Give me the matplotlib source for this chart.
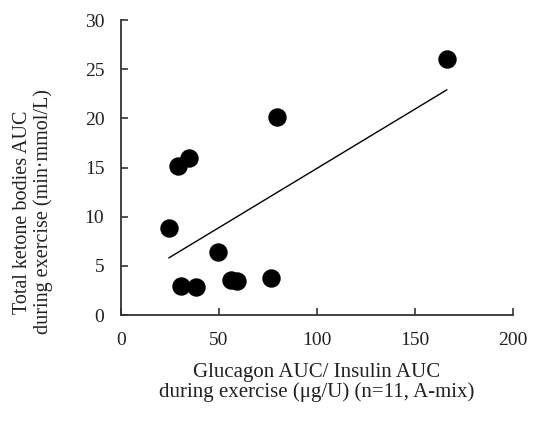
import numpy as np
import matplotlib.pyplot as plt

plt.rcParams['font.family'] = ['Liberation Serif', 'DejaVu Serif']

# Glucagon/insulin AUC ratio vs. total ketone bodies AUC (n=11, A-mix)
ratio = [24.5, 29.3, 30.6, 34.9, 38.3, 49.5, 56.0, 59.1, 76.8, 79.8, 166.3]
ketone = [8.85, 15.2, 3.0, 16.0, 2.8, 6.4, 3.6, 3.5, 3.8, 20.1, 26.0]

x_ticks = [0, 50, 100, 150, 200]
y_ticks = [0, 5, 10, 15, 20, 25, 30]

fig = plt.figure(figsize=(5.33, 4.28), dpi=100)
ax = fig.add_axes([0.227, 0.264, 0.735, 0.689])

ax.scatter(ratio, ketone, s=150, color='black', zorder=3)

# linear trend line over the data range
k, b = np.polyfit(ratio, ketone, 1)
xs = np.array([min(ratio), max(ratio)])
ax.plot(xs, k * xs + b, color='black', lw=1.0, zorder=2)

ax.set_xlim(0, 200)
ax.set_ylim(0, 30)
ax.set_xticks(x_ticks)
ax.set_yticks(y_ticks)
for s in ['top', 'right']:
    ax.spines[s].set_visible(False)
for s in ['left', 'bottom']:
    ax.spines[s].set_linewidth(1.3)
    ax.spines[s].set_color('#333333')
ax.tick_params(direction='in', length=5, width=1.2, color='#333333',
               labelsize=14, labelcolor='#222222', pad=12)

ax.set_xlabel('Glucagon AUC/ Insulin AUC\nduring exercise (\u03bcg/U) (n=11, A-mix)',
              fontsize=15, color='#222222', labelpad=10, linespacing=1.05)
fig.text(0.062, 0.505, 'Total ketone bodies AUC\nduring exercise (min\u00b7mmol/L)',
         rotation=90, ha='center', va='center', fontsize=14.5,
         color='#222222', linespacing=1.1, multialignment='center')

fig.savefig('out.png', dpi=100)
